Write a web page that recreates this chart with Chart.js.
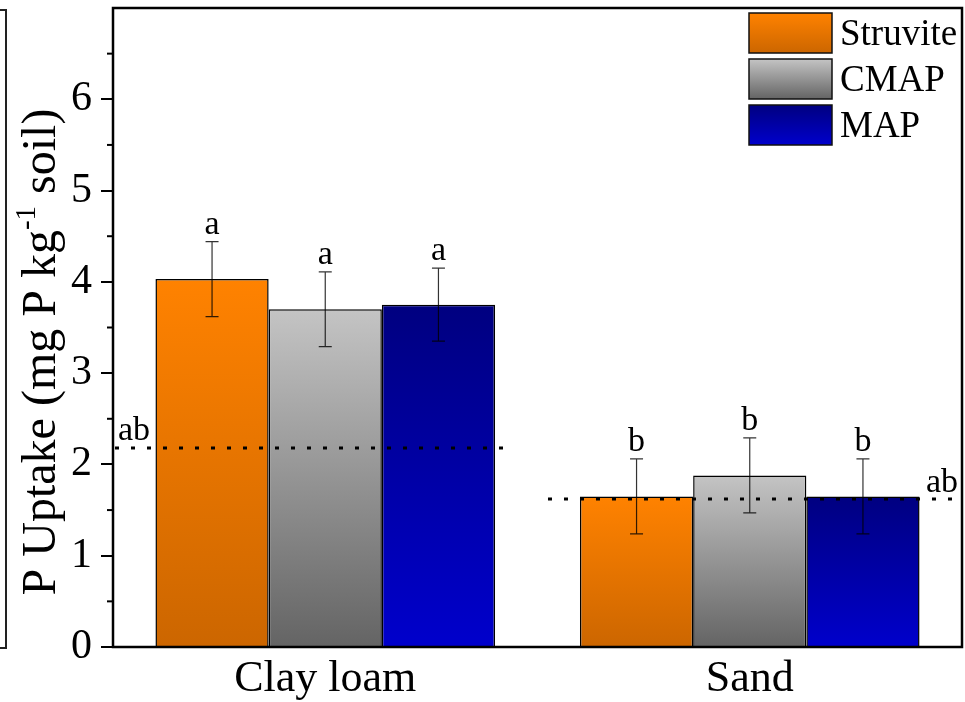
<!DOCTYPE html>
<html>
<head>
<meta charset="utf-8">
<script src="https://cdn.jsdelivr.net/npm/chart.js@4.4.1/dist/chart.umd.min.js"></script>
<style>
  html, body { margin: 0; padding: 0; background: #fff; }
  #grafico { display: block; }
</style>
</head>
<body>
<canvas id="grafico" width="965" height="702"></canvas>
<script>
// values
const categorias = ['Clay loam', 'Sand'];
const series = ['Struvite', 'CMAP', 'MAP'];
const struvite = [4.03, 1.65];
const cmap = [3.70, 1.88];
const map = [3.75, 1.65];
const erroStruvite = [0.41, 0.41];
const erroCmap = [0.41, 0.41];
const erroMap = [0.40, 0.41];
const letrasStruvite = ['a', 'b'];
const letrasCmap = ['a', 'b'];
const letrasMap = ['a', 'b'];
const linhaRef = [2.18, 1.62];      // dotted reference per soil
const letrasRef = ['ab', 'ab'];
const yTicks = [0, 1, 2, 3, 4, 5, 6];

const FONTE = '"Liberation Serif", "Times New Roman", serif';

// gradient top -> bottom of each bar
const cores = [
  ['#ff8200', '#cc6600'],
  ['#c4c4c4', '#646464'],
  ['#000080', '#0000cc']
];

function gradBarra(ctx, i) {
  const chart = ctx.chart;
  if (ctx.type !== 'data' || !chart.scales.y) return cores[i][0];
  const y = chart.scales.y;
  const topo = y.getPixelForValue(ctx.raw);
  const base = y.getPixelForValue(0);
  if (!isFinite(topo) || topo === base) return cores[i][0];
  const g = chart.ctx.createLinearGradient(0, topo, 0, base);
  g.addColorStop(0, cores[i][0]);
  g.addColorStop(1, cores[i][1]);
  return g;
}

const valores = [struvite, cmap, map];
const erros = [erroStruvite, erroCmap, erroMap];
const letras = [letrasStruvite, letrasCmap, letrasMap];

const extras = {
  id: 'extras',
  afterDatasetsDraw(chart) {
    const c = chart.ctx;
    const { left, right, top, bottom } = chart.chartArea;
    const x = chart.scales.x, y = chart.scales.y;
    c.save();

    // error bars + letters
    valores.forEach((serie, i) => {
      const meta = chart.getDatasetMeta(i);
      serie.forEach((v, j) => {
        const cx = meta.data[j].x;
        const yA = y.getPixelForValue(v + erros[i][j]);
        const yB = y.getPixelForValue(v - erros[i][j]);
        c.strokeStyle = 'rgba(0,0,0,0.8)';
        c.lineWidth = 1.2;
        c.beginPath();
        c.moveTo(cx, yA); c.lineTo(cx, yB);
        c.moveTo(cx - 6.5, yA); c.lineTo(cx + 6.5, yA);
        c.moveTo(cx - 6.5, yB); c.lineTo(cx + 6.5, yB);
        c.stroke();
        c.fillStyle = '#000';
        c.font = '34px ' + FONTE;
        c.textAlign = 'center';
        c.textBaseline = 'alphabetic';
        c.fillText(letras[i][j], cx, yA - 8);
      });
    });

    // dotted reference lines
    const trechos = [[-0.5, 0.42], [0.52, 1.5]];
    linhaRef.forEach((v, j) => {
      const py = y.getPixelForValue(v);
      c.strokeStyle = '#000';
      c.lineWidth = 3;
      c.setLineDash([4, 12]);
      c.beginPath();
      c.moveTo(x.getPixelForValue(trechos[j][0]) + 2, py);
      c.lineTo(x.getPixelForValue(trechos[j][1]), py);
      c.stroke();
      c.setLineDash([]);
      c.font = '34px ' + FONTE;
      c.fillStyle = '#000';
      if (j === 0) {
        c.textAlign = 'left';
        c.fillText(letrasRef[j], left + 5, py - 8);
      } else {
        c.textAlign = 'right';
        c.fillText(letrasRef[j], right - 4, py - 7);
      }
    });

    // minor ticks
    c.strokeStyle = '#000';
    c.lineWidth = 2;
    for (let k = 0; k < yTicks.length; k++) {
      const py = y.getPixelForValue(yTicks[k] + 0.5);
      c.beginPath();
      c.moveTo(left - 6, py); c.lineTo(left, py);
      c.stroke();
    }

    // frame
    c.lineWidth = 2.5;
    c.strokeRect(left, top, right - left, bottom - top);

    // legend
    const lx = 749, lw = 83;
    const linhas = [[13, 40], [59, 40], [105, 40]];
    series.forEach((nome, i) => {
      const [ly, lh] = linhas[i];
      const g = c.createLinearGradient(0, ly, 0, ly + lh);
      g.addColorStop(0, cores[i][0]);
      g.addColorStop(1, cores[i][1]);
      c.fillStyle = g;
      c.fillRect(lx, ly, lw, lh);
      c.lineWidth = 1.5;
      c.strokeStyle = '#111';
      c.strokeRect(lx, ly, lw, lh);
      c.fillStyle = '#000';
      c.font = '37px ' + FONTE;
      c.textAlign = 'left';
      c.textBaseline = 'middle';
      c.fillText(nome, 840, ly + lh / 2 + 2);
    });

    // y title with superscript
    c.save();
    c.translate(55, 352);
    c.rotate(-Math.PI / 2);
    c.fillStyle = '#000';
    c.textBaseline = 'alphabetic';
    c.textAlign = 'left';
    const p1 = 'P Uptake (mg P kg', sup = '-1', p2 = ' soil)';
    c.font = '48px ' + FONTE;
    const w1 = c.measureText(p1).width, w3 = c.measureText(p2).width;
    c.font = '29px ' + FONTE;
    const w2 = c.measureText(sup).width;
    let x0 = -(w1 + w2 + w3) / 2;
    c.font = '48px ' + FONTE;
    c.fillText(p1, x0, 0);
    c.font = '29px ' + FONTE;
    c.fillText(sup, x0 + w1, -20);
    c.font = '48px ' + FONTE;
    c.fillText(p2, x0 + w1 + w2, 0);
    c.restore();

    // edge of neighbouring panel
    c.strokeStyle = '#222';
    c.lineWidth = 2;
    c.beginPath();
    c.moveTo(0, 10); c.lineTo(6, 10); c.lineTo(6, 648); c.lineTo(0, 648);
    c.stroke();

    c.restore();
  }
};

new Chart(document.getElementById('grafico').getContext('2d'), {
  type: 'bar',
  data: {
    labels: categorias,
    datasets: series.map((nome, i) => ({
      label: nome,
      data: valores[i],
      backgroundColor: ctx => gradBarra(ctx, i),
      borderColor: '#000',
      borderWidth: 1.5,
      borderSkipped: 'bottom',
      categoryPercentage: 0.8,
      barPercentage: 1.0
    }))
  },
  options: {
    responsive: false,
    animation: false,
    layout: { padding: { top: 8, right: 3, left: 0, bottom: 0 } },
    plugins: { legend: { display: false }, tooltip: { enabled: false } },
    scales: {
      x: {
        grid: { display: false, drawTicks: false },
        border: { display: false },
        ticks: { color: '#000', font: { family: FONTE, size: 44 }, padding: 6 },
        afterFit(s) { s.height = 55; s.paddingLeft = 0; s.paddingRight = 0; }
      },
      y: {
        min: 0, max: 7,
        afterBuildTicks(s) { s.ticks = yTicks.map(v => ({ value: v })); },
        grid: { drawOnChartArea: false, drawTicks: true, tickLength: 12, color: '#000', lineWidth: 2 },
        border: { display: false },
        ticks: { color: '#000', font: { family: FONTE, size: 42 }, padding: 9 },
        afterFit(s) { s.width = 113; s.paddingTop = 0; s.paddingBottom = 0; }
      }
    }
  },
  plugins: [extras]
});
</script>
</body>
</html>
